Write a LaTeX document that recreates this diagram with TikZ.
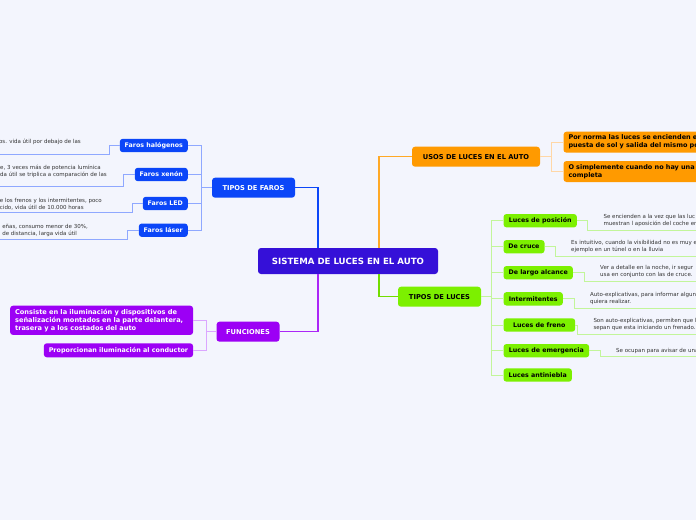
\documentclass[tikz,border=0pt]{standalone}
\usepackage{fontspec}
\setmainfont{DejaVu Sans}
\usetikzlibrary{positioning,calc}

\definecolor{bgpale}{HTML}{F3F5FD}
\definecolor{rootblue}{HTML}{3510D8}
\definecolor{faroblue}{HTML}{0B46F8}
\definecolor{faroline}{HTML}{8FA8FF}
\definecolor{usoorange}{HTML}{FF9A00}
\definecolor{usoline}{HTML}{FFD7A6}
\definecolor{luzgreen}{HTML}{7CF000}
\definecolor{luzline}{HTML}{C2F59A}
\definecolor{funpurple}{HTML}{9C00F5}
\definecolor{funline}{HTML}{DBA6FF}
\definecolor{desctext}{HTML}{333333}

\newcommand{\fsz}[1]{\fontsize{#1}{1.2\dimexpr#1pt\relax}\selectfont}

\begin{document}
\begin{tikzpicture}[x=1pt,y=-1pt,
  rootbox/.style={rounded corners=3pt,fill=rootblue,text=white,font=\fsz{8.6}\bfseries,
    minimum width=180pt,minimum height=26pt,inner sep=0pt},
  topic/.style={rounded corners=3pt,font=\fsz{6.7}\bfseries,minimum height=20pt,inner sep=0pt},
  sub/.style={rounded corners=3pt,font=\fsz{6.3}\bfseries,minimum height=13.4pt,inner sep=0pt},
  faro/.style={sub,fill=faroblue,text=white,anchor=east},
  luz/.style={sub,fill=luzgreen,text=black,anchor=west},
  uso/.style={rounded corners=3pt,fill=usoorange,text=black,anchor=west,align=left,
    font=\fontsize{6.5}{8}\selectfont\bfseries,text width=170pt,inner xsep=5pt,minimum height=21pt},
  fun/.style={rounded corners=3pt,fill=funpurple,text=white,anchor=east,align=left,
    font=\fontsize{6.6}{7.8}\selectfont\bfseries,inner xsep=5pt},
  desc/.style={font=\fontsize{5.5}{7}\selectfont,text=desctext,align=left,inner sep=0pt},
  mainlink/.style={line width=1.4pt},
  thinlink/.style={line width=1pt}]

  \clip (0,0) rectangle (696,520);
  \fill[bgpale] (0,0) rectangle (696,520);

  % central topic and main branches
  \node[rootbox] (root) at (348,261) {SISTEMA DE LUCES EN EL AUTO};
  \node[topic,fill=faroblue,text=white,minimum width=83pt] (faros) at (253.5,187.7) {TIPOS DE FAROS};
  \node[topic,fill=usoorange,minimum width=128pt] (usos) at (476,156.7) {USOS DE LUCES EN EL AUTO};
  \node[topic,fill=luzgreen,minimum width=83pt] (tiposluces) at (439.5,296.7) {TIPOS DE LUCES};
  \node[topic,fill=funpurple,text=white,minimum width=63pt] (funciones) at (248,331.7) {FUNCIONES};

  \draw[mainlink,faroblue] (faros.east) -| ([xshift=-30pt]root.north);
  \draw[mainlink,usoorange!85] (usos.west) -| ([xshift=31pt]root.north);
  \draw[mainlink,funpurple!85] ([xshift=-30pt]root.south) |- (funciones.east);
  \draw[mainlink,luzgreen!92!black] ([xshift=31pt]root.south) |- (tiposluces.west);

  % tipos de faros
  \node[faro,minimum width=68pt] (halogenos) at (188,145.5) {Faros halógenos};
  \node[faro,minimum width=53pt] (xenon) at (188,174.5) {Faros xenón};
  \node[faro,minimum width=45pt] (led) at (188,203.5) {Faros LED};
  \node[faro,minimum width=49pt] (laser) at (188,230.2) {Faros láser};
  \draw[thinlink,faroline] (faros.west) -- ++(-10.7,0) coordinate (farosTrunk);
  \foreach \f in {halogenos,xenon,led,laser}
    \draw[thinlink,faroline] (\f.east) -| (farosTrunk);

  \node[desc,anchor=east] (halogenosTxt) at (81,142.3) {os. vida útil por debajo de las};
  \node[desc,anchor=east] (xenonTxt) at (107,171.7) {e, 3 veces más de potencia lumínica\\da útil se triplica a comparación de las};
  \node[desc,anchor=east] (ledTxt) at (102,204.2) {e los frenos y los intermitentes, poco\\cido, vida útil de 10.000 horas};
  \node[desc,anchor=east] (laserTxt) at (88,230.4) {eñas, consumo menor de 30\%,\\de distancia, larga vida útil};
  \coordinate (halogenosEnd) at (-5,154.3);
  \coordinate (xenonEnd) at (-5,186.7);
  \coordinate (ledEnd) at (-5,212.3);
  \coordinate (laserEnd) at (-5,239);
  \draw[thinlink,faroline] (halogenos.west) -- ++(-10,0) |- (halogenosEnd);
  \draw[thinlink,faroline] (xenon.west) -- ++(-11,0) |- (xenonEnd);
  \draw[thinlink,faroline] (led.west) -- ++(-10,0) |- (ledEnd);
  \draw[thinlink,faroline] (laser.west) -- ++(-11,0) |- (laserEnd);

  % usos de luces
  \node[uso] (norma) at (563.3,142.2) {Por norma las luces se encienden e\\puesta de sol y salida del mismo po};
  \node[uso] (completa) at (563.3,171.5) {O simplemente cuando no hay una\\completa};
  \draw[thinlink,usoline] (usos.east) -- ++(11.7,0) coordinate (usosTrunk);
  \foreach \u in {norma,completa}
    \draw[thinlink,usoline] (\u.west) -| (usosTrunk);

  % tipos de luces
  \node[luz,minimum width=73.4pt] (posicion) at (503.3,220.7) {Luces de posición};
  \node[luz,minimum width=41pt] (cruce) at (503.3,246.7) {De cruce};
  \node[luz,minimum width=69.4pt] (largo) at (503.3,272.7) {De largo alcance};
  \node[luz,minimum width=59.4pt] (intermitentes) at (503.3,298.8) {Intermitentes};
  \node[luz,minimum width=71.7pt] (freno) at (503.3,325) {Luces de freno};
  \node[luz,minimum width=85.7pt] (emergencia) at (503.3,350.7) {Luces de emergencia};
  \node[luz,minimum width=68.4pt] (antiniebla) at (503.3,375) {Luces antiniebla};
  \draw[thinlink,luzline] (tiposluces.east) -- ++(10.5,0) coordinate (lucesTrunk);
  \foreach \l in {posicion,cruce,largo,intermitentes,freno,emergencia,antiniebla}
    \draw[thinlink,luzline] (\l.west) -| (lucesTrunk);

  \node[desc,anchor=west] (posicionTxt) at (603.3,220.3) {Se encienden a la vez que las luc\\muestran l aposición del coche en};
  \node[desc,anchor=west] (cruceTxt) at (571,246.7) {Es intuitivo, cuando la visibilidad no es muy e\\ejemplo en un túnel o en la lluvia};
  \node[desc,anchor=west] (largoTxt) at (600,271.7) {Ver a detalle en la noche, ir segur\\usa en conjunto con las de cruce.};
  \node[desc,anchor=west] (intermitentesTxt) at (590,298.7) {Auto-explicativas, para informar algun\\quiera realizar.};
  \node[desc,anchor=west] (frenoTxt) at (593.3,324.2) {Son auto-explicativas, permiten que l\\sepan que esta iniciando un frenado.};
  \node[desc,anchor=west] (emergenciaTxt) at (616,350.7) {Se ocupan para avisar de una};
  \coordinate (posicionEnd) at (700,230);
  \coordinate (cruceEnd) at (700,256);
  \coordinate (largoEnd) at (700,281.7);
  \coordinate (intermitentesEnd) at (700,308.3);
  \coordinate (frenoEnd) at (700,334);
  \coordinate (emergenciaEnd) at (700,356.7);
  \draw[thinlink,luzline] (posicion.east) -- ++(10.6,0) |- (posicionEnd);
  \draw[thinlink,luzline] (cruce.east) -- ++(11,0) |- (cruceEnd);
  \draw[thinlink,luzline] (largo.east) -- ++(11.3,0) |- (largoEnd);
  \draw[thinlink,luzline] (intermitentes.east) -- ++(11.3,0) |- (intermitentesEnd);
  \draw[thinlink,luzline] (freno.east) -- ++(2,0) |- (frenoEnd);
  \draw[thinlink,luzline] (emergencia.east) -- ++(11,0) |- (emergenciaEnd);

  % funciones
  \node[fun,text width=173pt,minimum height=29.3pt] (consiste) at (193.3,320.3)
    {Consiste en la iluminación y dispositivos de\\señalización montados en la parte delantera,\\trasera y a los costados del auto};
  \node[fun,minimum width=149.3pt,minimum height=14pt,inner xsep=3pt,align=center,
    font=\fontsize{6.4}{7.8}\selectfont\bfseries] (proporcionan) at (193.3,350.3)
    {Proporcionan iluminación al conductor};
  \draw[thinlink,funline] (funciones.west) -- ++(-10,0) coordinate (funTrunk);
  \foreach \c in {consiste,proporcionan}
    \draw[thinlink,funline] (\c.east) -| (funTrunk);
\end{tikzpicture}
\end{document}
